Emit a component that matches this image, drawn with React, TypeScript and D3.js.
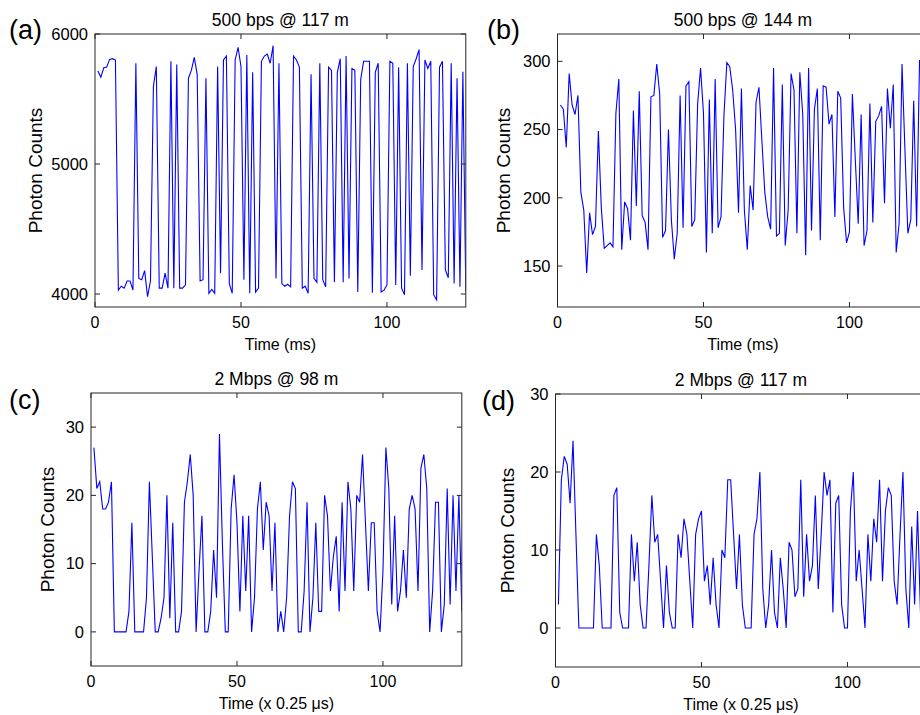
import React, { useEffect, useRef } from 'react';
import * as d3 from 'd3';

// photon counts per sample, sample index starts at 1
const COUNTS_A = [
  5715, 5667, 5740, 5745, 5805, 5810, 5800, 4030, 4060, 4045, 4100, 4100, 4030, 5775, 4120, 4110,
  4180, 3980, 4100, 5595, 5750, 4045, 4045, 4160, 4045, 5790, 4045, 5765, 4045, 4045, 4070, 5660,
  5720, 5820, 5690, 4100, 4110, 5660, 4005, 4035, 4005, 5750, 4160, 5800, 5830, 4080, 4005, 5800,
  5898, 5750, 4110, 5838, 4005, 5705, 4015, 4045, 5790, 5830, 5845, 5775, 5910, 4120, 5775, 4080,
  4060, 4075, 4055, 5830, 5800, 5745, 4045, 4060, 4005, 5690, 4120, 4090, 5775, 4110, 4055, 5745,
  5720, 4090, 5705, 5810, 4090, 5830, 4120, 5735, 5720, 4015, 5650, 5790, 5790, 5790, 4010, 5705,
  5775, 4015, 4030, 4070, 5790, 5775, 4070, 5745, 4045, 3995, 5775, 4140, 5750, 5810, 5880, 4185,
  5800, 5735, 5790, 3995, 3955, 5745, 5790, 4185, 4125, 5775, 4080, 5660, 4055, 5710, 4020,
];

const COUNTS_B = [
  268, 265, 237, 291, 268, 261, 275, 204, 191, 145, 189, 173, 179, 249, 193, 163,
  165, 167, 164, 262, 287, 162, 197, 192, 169, 264, 194, 278, 187, 182, 162, 274,
  275, 298, 276, 171, 176, 250, 184, 155, 174, 275, 178, 282, 285, 179, 184, 269,
  295, 262, 160, 272, 174, 287, 178, 186, 260, 299, 296, 279, 250, 189, 280, 191,
  162, 209, 191, 270, 281, 242, 204, 186, 177, 295, 172, 174, 283, 165, 191, 291,
  279, 174, 292, 261, 158, 295, 176, 265, 280, 169, 282, 281, 254, 261, 186, 278,
  273, 193, 167, 175, 276, 228, 181, 261, 165, 176, 269, 182, 256, 260, 267, 196,
  280, 251, 283, 160, 181, 298, 235, 174, 184, 271, 179, 301,
];

const COUNTS_C = [
  27, 21, 22, 18, 18, 19, 22, 0, 0, 0, 0, 0, 3, 16, 0, 0,
  0, 0, 5, 22, 11, 0, 0, 2, 5, 20, 2, 16, 0, 0, 3, 19,
  22, 26, 20, 0, 9, 17, 0, 0, 3, 12, 5, 29, 13, 0, 0, 18,
  23, 16, 3, 17, 6, 17, 0, 5, 18, 22, 12, 19, 17, 6, 16, 0,
  3, 0, 5, 17, 22, 21, 0, 0, 6, 19, 0, 5, 16, 3, 3, 20,
  17, 6, 11, 14, 3, 19, 6, 22, 18, 6, 20, 19, 26, 16, 6, 16,
  16, 3, 0, 9, 27, 21, 4, 17, 3, 6, 12, 5, 18, 20, 18, 6,
  24, 26, 21, 0, 6, 19, 19, 0, 4, 21, 4, 20, 6, 20, 3,
];

const COUNTS_D = [
  3, 19, 22, 21, 16, 24, 12, 0, 0, 0, 0, 0, 0, 12, 8, 0,
  0, 0, 0, 17, 18, 2, 0, 0, 0, 12, 6, 11, 3, 0, 0, 8,
  17, 11, 12, 6, 0, 8, 2, 0, 0, 12, 9, 14, 12, 6, 0, 12,
  14, 15, 6, 8, 3, 9, 3, 0, 10, 9, 19, 19, 12, 5, 12, 3,
  0, 0, 0, 12, 14, 20, 5, 0, 3, 10, 2, 0, 9, 5, 0, 11,
  10, 4, 5, 19, 4, 12, 6, 8, 17, 5, 12, 20, 17, 19, 2, 16,
  17, 3, 0, 0, 15, 20, 6, 10, 5, 0, 12, 6, 14, 11, 19, 6,
  15, 18, 17, 6, 3, 12, 20, 5, 0, 13, 3, 15, 2,
];

const TITLES = ['500 bps @ 117 m', '500 bps @ 144 m', '2 Mbps @ 98 m', '2 Mbps @ 117 m'];
const TAGS = ['(a)', '(b)', '(c)', '(d)'];
const X_LABELS = ['Time (ms)', 'Time (ms)', 'Time (x 0.25 \u03bcs)', 'Time (x 0.25 \u03bcs)'];
const X_TICKS = [0, 50, 100];
const Y_TICKS_A = [4000, 5000, 6000];
const Y_TICKS_B = [150, 200, 250, 300];
const Y_TICKS_CD = [0, 10, 20, 30];

const W = 920;
const H = 715;
const X_MAX = 127;
const PW = 370.8;
const PH = 273;

const panels = [
  { counts: COUNTS_A, yDomain: [3900, 6000], yTicks: Y_TICKS_A, left: 95, top: 34, yLabelX: 35, tagX: 9, tagY: 39 },
  { counts: COUNTS_B, yDomain: [120, 320], yTicks: Y_TICKS_B, left: 557.5, top: 34, yLabelX: 503, tagX: 487, tagY: 39 },
  { counts: COUNTS_C, yDomain: [-5, 35], yTicks: Y_TICKS_CD, left: 91, top: 393, yLabelX: 47, tagX: 9, tagY: 409 },
  { counts: COUNTS_D, yDomain: [-5, 30], yTicks: Y_TICKS_CD, left: 555.5, top: 394, yLabelX: 507, tagX: 482, tagY: 410 },
];

const FONT = '"Liberation Sans", Arial, Helvetica, sans-serif';

const App = () => {
  const svgRef = useRef(null);

  useEffect(() => {
    document.body.style.margin = '0';
    const svg = d3.select(svgRef.current);
    svg.selectAll('*').remove();

    panels.forEach((p, k) => {
      const x = d3.scaleLinear().domain([0, X_MAX]).range([0, PW]);
      const y = d3.scaleLinear().domain(p.yDomain).range([PH, 0]);

      const g = svg.append('g').attr('transform', `translate(${p.left},${p.top})`);

      svg.append('defs').append('clipPath').attr('id', `clip${k}`)
        .append('rect').attr('width', PW).attr('height', PH);

      const line = d3.line<number>()
        .x((d, i) => x(i + 1))
        .y((d) => y(d));

      g.append('path')
        .datum(p.counts)
        .attr('clip-path', `url(#clip${k})`)
        .attr('d', line)
        .attr('fill', 'none')
        .attr('stroke', '#0000ff')
        .attr('stroke-width', 1.1);

      g.append('rect')
        .attr('width', PW).attr('height', PH)
        .attr('fill', 'none').attr('stroke', '#262626').attr('stroke-width', 1);

      // inward ticks on all four sides
      X_TICKS.forEach((t) => {
        const xx = x(t);
        g.append('line').attr('x1', xx).attr('x2', xx).attr('y1', PH).attr('y2', PH - 5).attr('stroke', '#262626');
        g.append('line').attr('x1', xx).attr('x2', xx).attr('y1', 0).attr('y2', 5).attr('stroke', '#262626');
        g.append('text').attr('x', xx).attr('y', PH + 21)
          .attr('text-anchor', 'middle').attr('font-size', 16).text(t);
      });

      p.yTicks.forEach((t) => {
        const yy = y(t);
        g.append('line').attr('x1', 0).attr('x2', 5).attr('y1', yy).attr('y2', yy).attr('stroke', '#262626');
        g.append('line').attr('x1', PW).attr('x2', PW - 5).attr('y1', yy).attr('y2', yy).attr('stroke', '#262626');
        g.append('text').attr('x', -7).attr('y', yy).attr('dy', '0.35em')
          .attr('text-anchor', 'end').attr('font-size', 16.5).text(t);
      });

      g.append('text').attr('x', PW / 2).attr('y', -8)
        .attr('text-anchor', 'middle').attr('font-size', 17.5).text(TITLES[k]);

      g.append('text').attr('x', PW / 2).attr('y', PH + 43)
        .attr('text-anchor', 'middle').attr('font-size', 16).text(X_LABELS[k]);

      g.append('text')
        .attr('transform', `translate(${p.yLabelX - p.left},${PH / 2}) rotate(-90)`)
        .attr('dy', '0.35em')
        .attr('text-anchor', 'middle').attr('font-size', 19).text('Photon Counts');

      svg.append('text').attr('x', p.tagX).attr('y', p.tagY)
        .attr('font-size', 27).text(TAGS[k]);
    });
  }, []);

  return (
    <svg
      ref={svgRef}
      width={W}
      height={H}
      style={{ display: 'block', background: '#fff', fontFamily: FONT }}
    />
  );
};

export default App;
